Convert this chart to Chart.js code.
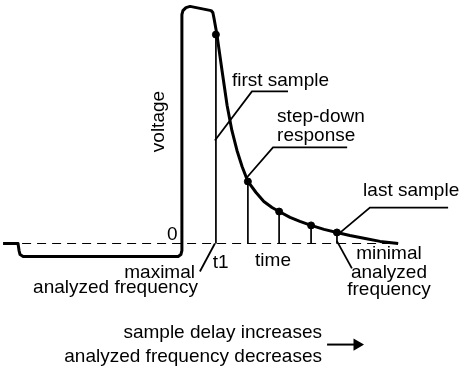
<!DOCTYPE html>
<html>
<head>
<meta charset="utf-8">
<script src="https://cdn.jsdelivr.net/npm/chart.js@4"></script>
<style>
  body { margin: 0; background: #fff; }
</style>
</head>
<body>
<canvas id="diagram" width="476" height="373"></canvas>
<script>
// step-down waveform (time, voltage)
const pulseTime = [-5.26, -4.82, -4.79, -4.76, -4.67, -0.11, -0.03, 0.0, 0.0, 0.03, 0.12, 0.24, 0.86, 0.91, 0.94,
  1.03, 1.18, 1.33, 1.47, 1.62, 1.77, 1.94, 2.18, 2.41, 2.65, 2.86, 3.18, 3.47, 3.80, 4.18, 4.56, 4.94, 5.39, 5.83, 6.36];
const pulseVolt = [0, 0, -0.30, -0.47, -0.55, -0.55, -0.47, -0.30, 9.74, 9.91, 10.04, 10.09, 9.91, 9.83, 9.62,
  8.89, 7.36, 5.87, 4.81, 3.96, 3.28, 2.64, 2.17, 1.79, 1.53, 1.36, 1.11, 0.94, 0.77, 0.60, 0.47, 0.34, 0.21, 0.09, 0];

// samples taken on the response
const sampleTime = [1.0, 1.94, 2.86, 3.80, 4.56];
const sampleVolt = [8.89, 2.64, 1.36, 0.77, 0.47];

// zero line extent
const zeroTime = [-4.7, 6.36];

// leader lines for labels
const leaders = [
  { t: [0.97, 2.06, 3.12], v: [4.38, 6.47, 6.47] },   // first sample
  { t: [1.91, 2.68, 4.86], v: [2.81, 4.09, 4.09] },   // step-down response
  { t: [4.60, 5.53, 7.83], v: [0.40, 1.53, 1.53] },   // last sample
  { t: [4.56, 5.00], v: [0.1, -1.06] },               // minimal analyzed frequency
  { t: [0.97, 0.53], v: [0, -1.19] }                  // t1 / maximal
];
const arrowTime = [4.27, 5.15];
const arrowVolt = [-4.30, -4.30];

const labels = [
  { text: 'voltage', t: -0.53, v: 5.19, align: 'center', rot: true },
  { text: '0', t: -0.44, v: 0.13, align: 'left' },
  { text: 'first sample', t: 1.47, v: 6.72, align: 'left' },
  { text: 'step-down', t: 2.80, v: 5.15, align: 'left' },
  { text: 'response', t: 2.80, v: 4.38, align: 'left' },
  { text: 'last sample', t: 5.33, v: 2.04, align: 'left' },
  { text: 'minimal', t: 6.09, v: -0.68, align: 'center' },
  { text: 'analyzed', t: 6.09, v: -1.47, align: 'center' },
  { text: 'frequency', t: 6.09, v: -2.17, align: 'center' },
  { text: 't1', t: 0.91, v: -1.06, align: 'left' },
  { text: 'time', t: 2.68, v: -0.94, align: 'center' },
  { text: 'maximal', t: 0.385, v: -1.45, align: 'right' },
  { text: 'analyzed frequency', t: 0.47, v: -2.09, align: 'right' },
  { text: 'sample delay increases', t: 4.12, v: -4.04, align: 'right' },
  { text: 'analyzed frequency decreases', t: 4.12, v: -5.06, align: 'right' }
];

function pts(ts, vs) {
  return ts.map(function(t, i) { return { x: t, y: vs[i] }; });
}

let stems = [];
sampleTime.forEach(function(t, i) {
  stems.push({ x: t, y: sampleVolt[i] }, { x: t, y: 0 }, { x: t, y: null });
});

const lineBase = { showLine: true, pointRadius: 0, borderColor: '#000', clip: false, tension: 0 };

const datasets = [
  Object.assign({}, lineBase, { data: pts(zeroTime, [0, 0]), borderWidth: 1, borderDash: [9, 6] }),
  Object.assign({}, lineBase, { data: stems, borderWidth: 1, spanGaps: false }),
  Object.assign({}, lineBase, { data: pts(pulseTime, pulseVolt), borderWidth: 3, borderJoinStyle: 'round' }),
  {
    data: pts(sampleTime, sampleVolt),
    pointRadius: 3.5, pointBackgroundColor: '#000', pointBorderColor: '#000', clip: false
  }
];
leaders.forEach(function(l) {
  datasets.push(Object.assign({}, lineBase, { data: pts(l.t, l.v), borderWidth: 1.8 }));
});
datasets.push(Object.assign({}, lineBase, {
  data: pts(arrowTime, arrowVolt), borderWidth: 2,
  pointRadius: [0, 5], pointStyle: 'triangle', rotation: 90,
  pointBackgroundColor: '#000', pointBorderColor: '#000'
}));

const textPlugin = {
  id: 'texts',
  afterDatasetsDraw(chart) {
    const ctx = chart.ctx;
    const xs = chart.scales.x, ys = chart.scales.y;
    ctx.save();
    ctx.fillStyle = '#000';
    ctx.font = '19px "Liberation Sans", Arial, sans-serif';
    ctx.textBaseline = 'alphabetic';
    labels.forEach(function(l) {
      const px = xs.getPixelForValue(l.t), py = ys.getPixelForValue(l.v);
      ctx.textAlign = l.align;
      if (l.rot) {
        ctx.save();
        ctx.translate(px, py);
        ctx.rotate(-Math.PI / 2);
        ctx.fillText(l.text, 0, 0);
        ctx.restore();
      } else {
        ctx.fillText(l.text, px, py);
      }
    });
    ctx.restore();
  }
};

new Chart(document.getElementById('diagram'), {
  type: 'scatter',
  data: { datasets: datasets },
  options: {
    responsive: false,
    animation: false,
    layout: { padding: 0, autoPadding: false },
    plugins: { legend: { display: false }, tooltip: { enabled: false } },
    scales: {
      x: { type: 'linear', min: -5.35, max: 8.65, display: false },
      y: { type: 'linear', min: -5.51, max: 10.362, display: false }
    }
  },
  plugins: [textPlugin]
});
</script>
</body>
</html>
